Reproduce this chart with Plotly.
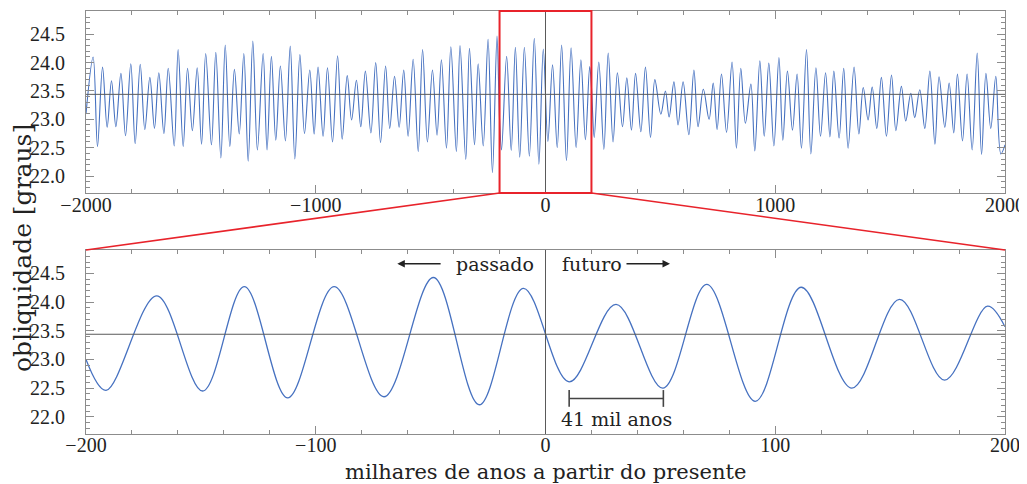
"""
Obliquidade da Terra: 4 milhoes de anos e um zoom nos +-200 mil anos.
Valores lidos da figura original (extremos da curva), ligados por spline.
"""

import plotly.graph_objects as go

# extremos da curva (milhares de anos, graus) - passado, janela de zoom, futuro
past_kyr = [-2000, -1969, -1950, -1928, -1908, -1889, -1870, -1848, -1828, -1805,
            -1786, -1764, -1744, -1722, -1702, -1683, -1661, -1642, -1616, -1599,
            -1577, -1558, -1537, -1516, -1497, -1479, -1454, -1435, -1413, -1394,
            -1374, -1354, -1333, -1313, -1294, -1274, -1254, -1229, -1212, -1193,
            -1174, -1154, -1132, -1111, -1091, -1069, -1049, -1026, -1007, -990,
            -968, -949, -927, -905, -885, -863, -844, -823, -804, -784,
            -760, -739, -718, -696, -678, -657, -637, -617, -598, -576,
            -554, -535, -514, -492, -472, -453, -431, -412, -388, -372,
            -347, -331, -309, -293, -271, -250, -231, -211]
past_deg = [23.10, 24.10, 22.52, 23.92, 22.86, 23.68, 22.87, 23.81, 22.71, 23.98,
            22.57, 23.97, 22.82, 23.74, 22.84, 23.82, 22.75, 23.90, 22.53, 24.23,
            22.52, 23.90, 22.80, 23.91, 22.56, 24.16, 22.55, 24.18, 22.32, 24.31,
            22.52, 23.88, 22.74, 24.16, 22.26, 24.38, 22.46, 24.16, 22.46, 24.11,
            22.63, 23.94, 22.62, 24.29, 22.30, 24.14, 22.75, 23.87, 22.74, 23.92,
            22.70, 23.91, 22.60, 24.12, 22.65, 23.77, 22.99, 23.69, 22.87, 23.85,
            22.76, 24.00, 22.59, 23.94, 22.84, 23.76, 22.86, 23.87, 22.70, 24.06,
            22.43, 24.23, 22.60, 23.87, 22.72, 24.05, 22.49, 24.28, 22.43, 24.30,
            22.29, 24.25, 22.55, 23.98, 22.53, 24.41, 22.06, 24.47]

zoom_kyr = [-200, -191.3, -169.2, -149.2, -131.1, -112.2, -92.0, -70.3, -48.8, -28.8,
            -9.6, 10.3, 30.7, 51.1, 70.2, 91.3, 111.3, 133.3, 154.1, 173.7,
            192.4, 200]
zoom_deg = [23.00, 22.46, 24.11, 22.45, 24.27, 22.33, 24.27, 22.35, 24.43, 22.21,
            24.24, 22.61, 23.96, 22.50, 24.31, 22.27, 24.26, 22.50, 24.05, 22.64,
            23.93, 23.57]

future_kyr = [212, 232, 254, 273, 294, 313, 335, 354, 374, 392,
              415, 435, 457, 476, 502, 522, 538, 559, 577, 599,
              624, 646, 664, 687, 712, 730, 747, 766, 788, 812,
              831, 850, 870, 894, 911, 933, 952, 972, 994, 1016,
              1033, 1053, 1075, 1095, 1114, 1136, 1155, 1177, 1197, 1219,
              1238, 1255, 1278, 1298, 1317, 1343, 1364, 1383, 1404, 1422,
              1442, 1462, 1484, 1506, 1525, 1549, 1568, 1590, 1607, 1629,
              1651, 1673, 1695, 1713, 1738, 1757, 1777, 1793, 1815, 1835,
              1857, 1879, 1898, 1917, 1938, 1960, 1982, 2000]
future_deg = [22.68, 24.01, 22.47, 24.17, 22.60, 23.82, 22.87, 23.73, 22.81, 23.81,
              22.78, 23.92, 22.68, 23.70, 23.09, 23.50, 23.04, 23.66, 22.90, 23.66,
              22.73, 23.87, 22.87, 23.53, 23.00, 23.64, 22.82, 23.80, 22.77, 24.01,
              22.49, 23.90, 22.93, 23.62, 22.44, 24.03, 22.70, 23.99, 22.53, 24.09,
              22.63, 23.85, 22.81, 23.80, 22.49, 24.23, 22.39, 23.91, 22.70, 23.82,
              22.69, 23.85, 22.67, 23.90, 22.49, 23.92, 22.74, 23.56, 22.99, 23.57,
              22.84, 23.74, 22.70, 23.78, 22.80, 23.58, 22.97, 23.46, 23.03, 23.52,
              22.84, 23.85, 22.56, 23.75, 22.86, 23.64, 22.76, 23.80, 22.62, 23.80,
              22.46, 24.17, 22.38, 23.81, 22.84, 23.76, 22.39, 22.55]

mean_deg = 23.44
zoom_window = [-200, 200]
bar_kyr = [10.3, 51.3]
bar_deg = [22.32, 22.32]

BLUE = "#4671c0"
RED = "#e8232b"
FRAME = "#8c8c8c"
TEXT = "#222222"
TICK_FONT = "Liberation Serif"
LABEL_FONT = "DejaVu Serif"

# geometria da pagina (o body do html ja desloca tudo 8 px)
W, H = 1019, 476
M = dict(l=78, r=22, t=3, b=50)
top_dom = [0.5697, 1.0]
bot_dom = [0.0, 0.435]

fig = go.Figure()

all_kyr = past_kyr + zoom_kyr + future_kyr
all_deg = past_deg + zoom_deg + future_deg

fig.add_trace(go.Scatter(
    x=all_kyr, y=all_deg, mode="lines",
    line=dict(color=BLUE, width=1.1, shape="spline", smoothing=1),
    xaxis="x", yaxis="y", hoverinfo="skip", showlegend=False
))
fig.add_trace(go.Scatter(
    x=zoom_kyr, y=zoom_deg, mode="lines",
    line=dict(color=BLUE, width=1.3, shape="spline", smoothing=1),
    xaxis="x2", yaxis="y2", hoverinfo="skip", showlegend=False
))
# barra de escala "41 mil anos"
fig.add_trace(go.Scatter(
    x=bar_kyr, y=bar_deg, mode="lines+markers",
    line=dict(color="#444444", width=1.6),
    marker=dict(symbol="line-ns", size=12, line=dict(color="#444444", width=1.6)),
    xaxis="x2", yaxis="y2", hoverinfo="skip", showlegend=False
))

axis_style = dict(
    showline=True, mirror="allticks", linecolor=FRAME, linewidth=1.2,
    ticks="inside", ticklen=8, tickwidth=1, tickcolor=FRAME,
    showgrid=False, zeroline=False, automargin=False,
    tickfont=dict(family=TICK_FONT, size=20, color=TEXT),
)

fig.update_layout(
    width=W, height=H, margin=M,
    paper_bgcolor="white", plot_bgcolor="white",
    font=dict(family=TICK_FONT, color=TEXT),
    xaxis=dict(axis_style, domain=[0, 1], anchor="y", range=[-2000, 2000],
               tick0=0, dtick=1000, ticklabelstandoff=-6,
               minor=dict(ticks="inside", dtick=200, ticklen=4, tickcolor=FRAME)),
    yaxis=dict(axis_style, domain=top_dom, anchor="x", range=[21.70, 24.91],
               tick0=22, dtick=0.5, tickformat=".1f", ticklabelstandoff=16,
               minor=dict(ticks="inside", dtick=0.1, ticklen=4, tickcolor=FRAME)),
    xaxis2=dict(axis_style, domain=[0, 1], anchor="y2", range=zoom_window,
                tick0=0, dtick=100, ticklabelstandoff=-7,
                minor=dict(ticks="inside", dtick=20, ticklen=4, tickcolor=FRAME)),
    yaxis2=dict(axis_style, domain=bot_dom, anchor="x2", range=[21.70, 24.91],
                tick0=22, dtick=0.5, tickformat=".1f", ticklabelstandoff=16,
                minor=dict(ticks="inside", dtick=0.1, ticklen=4, tickcolor=FRAME)),
)

shapes = []
# linha media e linha do presente nos dois paineis
for xr, yr in (("x", "y"), ("x2", "y2")):
    shapes.append(dict(type="line", xref=xr + " domain", yref=yr, x0=0, x1=1,
                       y0=mean_deg, y1=mean_deg, line=dict(color="#5a5a5a", width=1)))
    shapes.append(dict(type="line", xref=xr, yref=yr + " domain", x0=0, x1=0,
                       y0=0, y1=1, line=dict(color="#5a5a5a", width=1)))

# caixa vermelha e linhas de ligacao ao painel de baixo
shapes.append(dict(type="rect", xref="x", yref="y domain",
                   x0=zoom_window[0], x1=zoom_window[1], y0=0, y1=1,
                   line=dict(color=RED, width=2)))
span = 4000.0
left_frac = (zoom_window[0] + 2000) / span
right_frac = (zoom_window[1] + 2000) / span
shapes.append(dict(type="line", xref="paper", yref="paper",
                   x0=left_frac, y0=top_dom[0], x1=0, y1=bot_dom[1],
                   line=dict(color=RED, width=1.6)))
shapes.append(dict(type="line", xref="paper", yref="paper",
                   x0=right_frac, y0=top_dom[0], x1=1, y1=bot_dom[1],
                   line=dict(color=RED, width=1.6)))
fig.update_layout(shapes=shapes)

label_font = dict(family=LABEL_FONT, size=19, color=TEXT)
annotations = [
    dict(text="passado", x=-22, y=24.67, xref="x2", yref="y2",
         showarrow=False, font=label_font),
    dict(text="", x=-64.5, y=24.67, ax=-45, ay=24.67, xref="x2", yref="y2",
         axref="x2", ayref="y2", showarrow=True, arrowhead=2, arrowsize=1,
         arrowwidth=1.5, arrowcolor=TEXT),
    dict(text="futuro", x=20.3, y=24.67, xref="x2", yref="y2",
         showarrow=False, font=label_font),
    dict(text="", x=54.2, y=24.67, ax=34.6, ay=24.67, xref="x2", yref="y2",
         axref="x2", ayref="y2", showarrow=True, arrowhead=2, arrowsize=1,
         arrowwidth=1.5, arrowcolor=TEXT),
    dict(text="41 mil anos", x=31, y=21.97, xref="x2", yref="y2",
         showarrow=False, font=dict(family=LABEL_FONT, size=19, color=TEXT)),
    dict(text="obliquidade [graus]", textangle=-90, xref="paper", yref="paper",
         x=-0.0685, y=0.44, xanchor="center", yanchor="middle", showarrow=False,
         font=dict(family=LABEL_FONT, size=25, color=TEXT)),
    dict(text="milhares de anos a partir do presente", xref="paper", yref="paper",
         x=0.5, y=-0.09, xanchor="center", yanchor="middle", showarrow=False,
         font=dict(family=LABEL_FONT, size=21, color=TEXT)),
]
fig.update_layout(annotations=annotations)

fig.write_html("out.html")
